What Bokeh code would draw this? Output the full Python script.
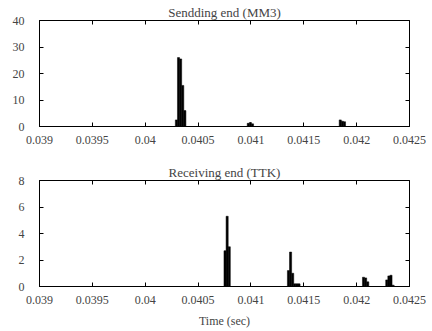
from bokeh.plotting import figure
from bokeh.models import Range1d, LinearAxis, FixedTicker, ColumnDataSource
from bokeh.layouts import column
from bokeh.embed import file_html
from bokeh.resources import INLINE

# ---- data ----
x_ticks = [0.039, 0.0395, 0.04, 0.0405, 0.041, 0.0415, 0.042, 0.0425]
x_tick_labels = ["0.039", "0.0395", "0.04", "0.0405", "0.041", "0.0415", "0.042", "0.0425"]

send_time = [0.040295, 0.040315, 0.040335, 0.040355, 0.040375,
             0.040975, 0.040995, 0.041015,
             0.041845, 0.041865, 0.041885]
send_count = [2.5, 26.0, 25.5, 15.5, 6.0,
              1.2, 1.5, 1.0,
              2.5, 2.0, 1.8]
send_yticks = [0, 10, 20, 30, 40]

recv_time = [0.040755, 0.040775, 0.040795,
             0.041355, 0.041375, 0.041395, 0.041415, 0.041435, 0.041455,
             0.042065, 0.042085, 0.042105,
             0.042285, 0.042305, 0.042325, 0.042345]
recv_count = [2.7, 5.3, 3.0,
              1.2, 2.6, 1.0, 0.2, 0.2, 0.2,
              0.7, 0.65, 0.35,
              0.5, 0.8, 0.85, 0.1]
recv_yticks = [0, 2, 4, 6, 8]

bin_width = 0.00002
FONT = "Liberation Serif"


def make_fig(title, xs, ys, yticks, ymax, height, border_top, border_bottom, xlabel=None):
    p = figure(width=432, height=height, output_backend="svg", toolbar_location=None,
               x_range=Range1d(0.039, 0.0425), y_range=Range1d(0, ymax),
               min_border_left=39, min_border_right=23,
               min_border_top=border_top, min_border_bottom=border_bottom,
               title=title)
    p.title.align = "center"
    p.title.text_font = FONT
    p.title.text_font_size = "13px"
    p.title.text_font_style = "normal"
    p.title.standoff = 2
    p.title.offset = 0
    p.grid.visible = False
    p.outline_line_color = "black"
    p.outline_line_width = 1

    src = ColumnDataSource(dict(x=xs, top=ys))
    p.vbar(x="x", top="top", width=bin_width, source=src,
           fill_color="black", line_color="black", line_width=0.5)

    for ax in p.xaxis:
        ax.ticker = FixedTicker(ticks=x_ticks)
        ax.major_label_overrides = {t: l for t, l in zip(x_ticks, x_tick_labels)}
    for ax in p.yaxis:
        ax.ticker = FixedTicker(ticks=yticks)

    for ax in list(p.xaxis) + list(p.yaxis):
        ax.major_tick_in = 4
        ax.major_tick_out = 0
        ax.minor_tick_line_color = None
        ax.axis_line_color = "black"
        ax.major_tick_line_color = "black"
        ax.major_label_text_font = FONT
        ax.major_label_text_font_size = "12px"
    p.yaxis.major_label_standoff = 15
    p.xaxis.major_label_standoff = 9

    if xlabel:
        p.xaxis.axis_label = xlabel
        p.xaxis.axis_label_text_font = FONT
        p.xaxis.axis_label_text_font_size = "12px"
        p.xaxis.axis_label_text_font_style = "normal"
        p.xaxis.axis_label_standoff = 7

    # mirrored inward ticks on top and right (no labels)
    top_ax = LinearAxis(ticker=FixedTicker(ticks=x_ticks), major_tick_in=4, major_tick_out=0,
                        minor_tick_line_color=None, axis_line_color=None,
                        major_label_overrides={t: "" for t in x_ticks},
                        major_label_standoff=0)
    right_ax = LinearAxis(ticker=FixedTicker(ticks=yticks), major_tick_in=4, major_tick_out=0,
                          minor_tick_line_color=None, axis_line_color=None,
                          major_label_overrides={t: "" for t in yticks},
                          major_label_standoff=0)
    p.add_layout(top_ax, "above")
    p.add_layout(right_ax, "right")
    return p


p1 = make_fig("Sendding end (MM3)", send_time, send_count, send_yticks, 40,
              height=155, border_top=20, border_bottom=29)
p2 = make_fig("Receiving end (TTK)", recv_time, recv_count, recv_yticks, 8,
              height=176, border_top=25, border_bottom=45, xlabel="Time (sec)")

layout = column(p1, p2, spacing=0)
open("out.html", "w").write(file_html(layout, INLINE))
